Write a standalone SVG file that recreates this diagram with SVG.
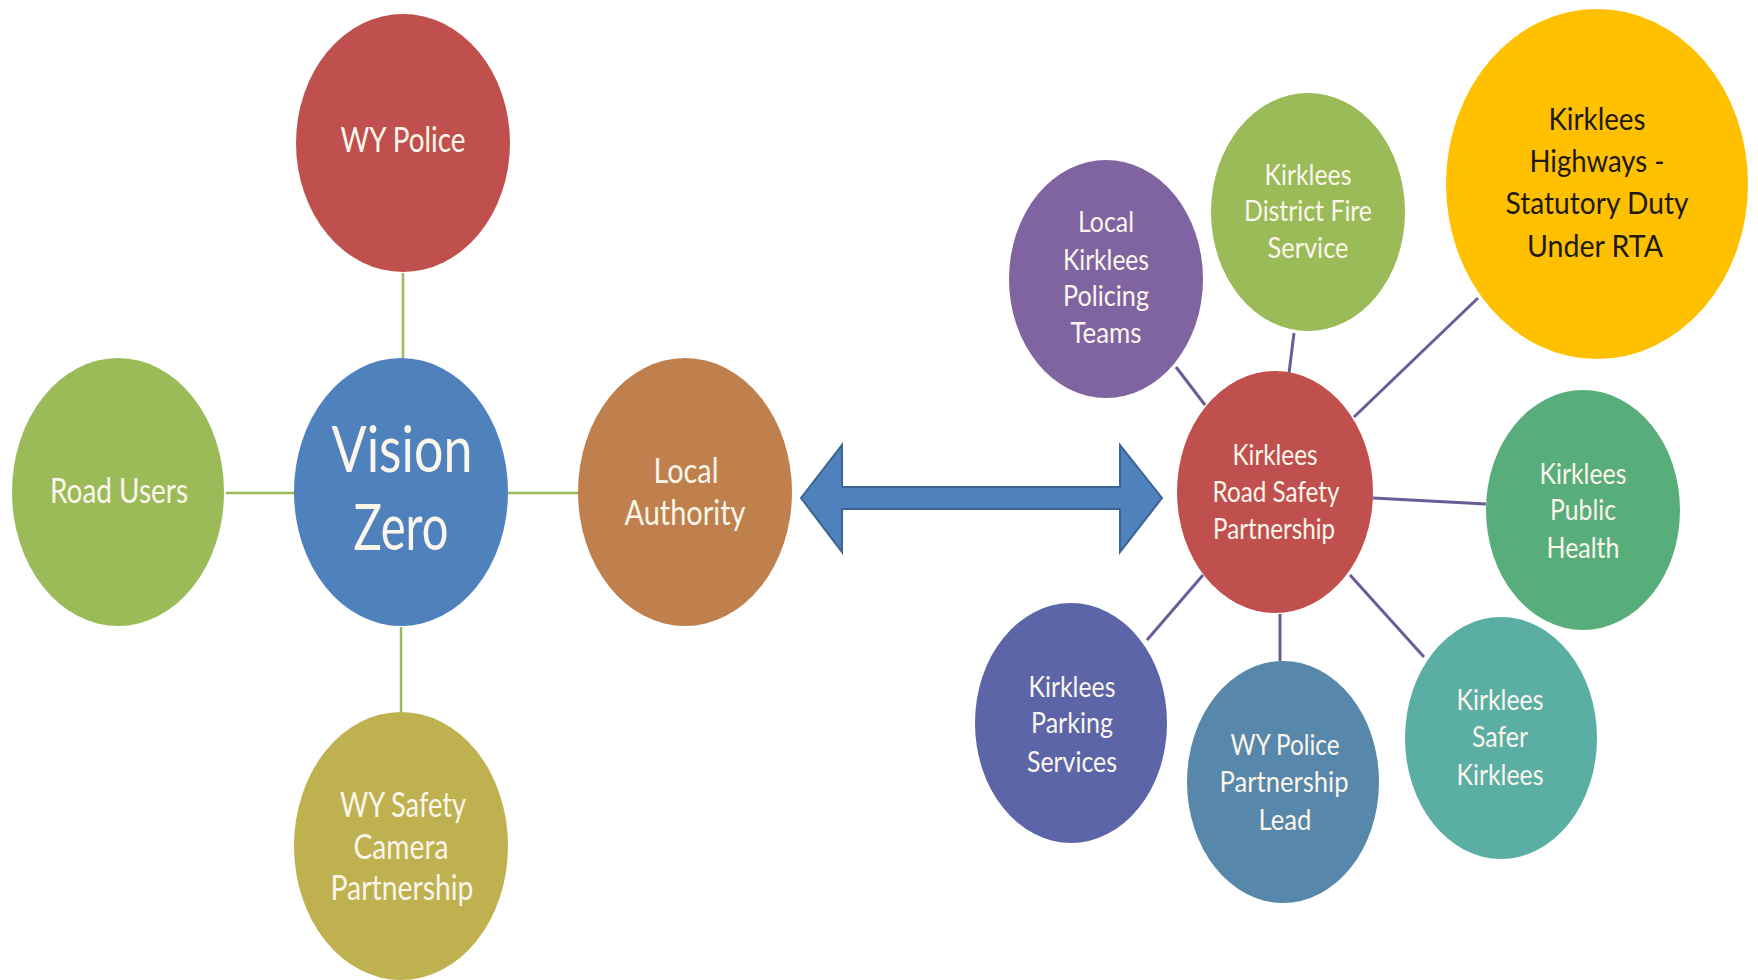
<svg xmlns="http://www.w3.org/2000/svg" width="1758" height="980" viewBox="0 0 1758 980">
<style>
text{font-family:Lato,"Open Sans","Liberation Sans",sans-serif;text-anchor:middle}
.lt{fill:#fbf6ec}
.dk{fill:#1e1a10}
.s35{font-size:35px}
.s28{font-size:28.5px}
.s31{font-size:31.5px}
.s63{font-size:64px}
.cg{stroke:#9bbb59;stroke-width:2.5;fill:none}
.cp{stroke:#6b5c97;stroke-width:3;fill:none}
</style>
<rect width="1758" height="980" fill="#ffffff"/>
<g id="connectors">
<line class="cg" x1="403" y1="273" x2="403" y2="358"/>
<line class="cg" x1="226" y1="493" x2="294" y2="493"/>
<line class="cg" x1="508" y1="493" x2="578" y2="493"/>
<line class="cg" x1="401" y1="627" x2="401" y2="712"/>
<line class="cp" x1="1176" y1="367" x2="1205" y2="405"/>
<line class="cp" x1="1294" y1="333" x2="1289" y2="373"/>
<line class="cp" x1="1478" y1="298" x2="1354" y2="417"/>
<line class="cp" x1="1373" y1="498" x2="1486" y2="504"/>
<line class="cp" x1="1203" y1="575" x2="1147" y2="640"/>
<line class="cp" x1="1280" y1="614" x2="1280" y2="661"/>
<line class="cp" x1="1350" y1="575" x2="1424" y2="657"/>
<path id="double-arrow" d="M801,498 L842,445 L842,487 L1120,487 L1120,445 L1162,498 L1120,552 L1120,509 L842,509 L842,552 Z" fill="#4f81bd" stroke="#3b6393" stroke-width="2" stroke-linejoin="miter"/>
</g>
<g id="wy-police">
<ellipse cx="403" cy="143" rx="107" ry="129" fill="#c0504d"/>
<text class="lt s35" x="403" y="152" textLength="125" lengthAdjust="spacingAndGlyphs">WY Police</text>
</g>
<g id="vision-zero">
<ellipse cx="401" cy="492" rx="107" ry="134" fill="#4f81bd"/>
<text class="lt s63" x="402" y="472" textLength="141" lengthAdjust="spacingAndGlyphs">Vision</text>
<text class="lt s63" x="401" y="550" textLength="95" lengthAdjust="spacingAndGlyphs">Zero</text>
</g>
<g id="road-users">
<ellipse cx="118" cy="492" rx="106" ry="134" fill="#9bbb59"/>
<text class="lt s35" x="119" y="503" textLength="138" lengthAdjust="spacingAndGlyphs">Road Users</text>
</g>
<g id="local-authority">
<ellipse cx="685" cy="492" rx="107" ry="134" fill="#c0804d"/>
<text class="lt s35" x="686" y="483" textLength="65" lengthAdjust="spacingAndGlyphs">Local</text>
<text class="lt s35" x="685" y="525" textLength="121" lengthAdjust="spacingAndGlyphs">Authority</text>
</g>
<g id="wy-safety-camera">
<ellipse cx="401" cy="846" rx="107" ry="134" fill="#bfb14f"/>
<text class="lt s35" x="403" y="817" textLength="126" lengthAdjust="spacingAndGlyphs">WY Safety</text>
<text class="lt s35" x="401" y="859" textLength="95" lengthAdjust="spacingAndGlyphs">Camera</text>
<text class="lt s35" x="402" y="900" textLength="143" lengthAdjust="spacingAndGlyphs">Partnership</text>
</g>
<g id="policing-teams">
<ellipse cx="1106" cy="279" rx="97" ry="119" fill="#8064a2"/>
<text class="lt s28" x="1106" y="232" textLength="56" lengthAdjust="spacingAndGlyphs">Local</text>
<text class="lt s28" x="1106" y="270" textLength="86" lengthAdjust="spacingAndGlyphs">Kirklees</text>
<text class="lt s28" x="1106" y="306" textLength="86" lengthAdjust="spacingAndGlyphs">Policing</text>
<text class="lt s28" x="1106" y="343" textLength="71" lengthAdjust="spacingAndGlyphs">Teams</text>
</g>
<g id="fire-service">
<ellipse cx="1308" cy="212" rx="97" ry="119" fill="#9bbb59"/>
<text class="lt s28" x="1308" y="185" textLength="87" lengthAdjust="spacingAndGlyphs">Kirklees</text>
<text class="lt s28" x="1308" y="221" textLength="128" lengthAdjust="spacingAndGlyphs">District Fire</text>
<text class="lt s28" x="1308" y="258" textLength="81" lengthAdjust="spacingAndGlyphs">Service</text>
</g>
<g id="highways">
<ellipse cx="1597" cy="184" rx="151" ry="175" fill="#ffc000"/>
<text class="dk s31" x="1597" y="130" textLength="97" lengthAdjust="spacingAndGlyphs">Kirklees</text>
<text class="dk s31" x="1597" y="172" textLength="135" lengthAdjust="spacingAndGlyphs">Highways -</text>
<text class="dk s31" x="1597" y="214" textLength="183" lengthAdjust="spacingAndGlyphs">Statutory Duty</text>
<text class="dk s31" x="1595" y="257" textLength="136" lengthAdjust="spacingAndGlyphs">Under RTA</text>
</g>
<g id="road-safety-partnership">
<ellipse cx="1275" cy="492" rx="98" ry="121" fill="#c0504d"/>
<text class="lt s28" x="1275" y="465" textLength="85" lengthAdjust="spacingAndGlyphs">Kirklees</text>
<text class="lt s28" x="1276" y="502" textLength="127" lengthAdjust="spacingAndGlyphs">Road Safety</text>
<text class="lt s28" x="1274" y="539" textLength="122" lengthAdjust="spacingAndGlyphs">Partnership</text>
</g>
<g id="public-health">
<ellipse cx="1583" cy="510" rx="97" ry="120" fill="#58ae7a"/>
<text class="lt s28" x="1583" y="484" textLength="87" lengthAdjust="spacingAndGlyphs">Kirklees</text>
<text class="lt s28" x="1583" y="520" textLength="66" lengthAdjust="spacingAndGlyphs">Public</text>
<text class="lt s28" x="1583" y="558" textLength="73" lengthAdjust="spacingAndGlyphs">Health</text>
</g>
<g id="parking-services">
<ellipse cx="1071" cy="723" rx="96" ry="120" fill="#5c65a8"/>
<text class="lt s28" x="1072" y="697" textLength="87" lengthAdjust="spacingAndGlyphs">Kirklees</text>
<text class="lt s28" x="1072" y="733" textLength="82" lengthAdjust="spacingAndGlyphs">Parking</text>
<text class="lt s28" x="1072" y="772" textLength="90" lengthAdjust="spacingAndGlyphs">Services</text>
</g>
<g id="wy-police-lead">
<ellipse cx="1283" cy="782" rx="96" ry="121" fill="#5787ab"/>
<text class="lt s28" x="1285" y="755" textLength="109" lengthAdjust="spacingAndGlyphs">WY Police</text>
<text class="lt s28" x="1284" y="792" textLength="129" lengthAdjust="spacingAndGlyphs">Partnership</text>
<text class="lt s28" x="1285" y="830" textLength="53" lengthAdjust="spacingAndGlyphs">Lead</text>
</g>
<g id="safer-kirklees">
<ellipse cx="1501" cy="738" rx="96" ry="121" fill="#5aaea4"/>
<text class="lt s28" x="1500" y="710" textLength="87" lengthAdjust="spacingAndGlyphs">Kirklees</text>
<text class="lt s28" x="1500" y="747" textLength="56" lengthAdjust="spacingAndGlyphs">Safer</text>
<text class="lt s28" x="1500" y="785" textLength="87" lengthAdjust="spacingAndGlyphs">Kirklees</text>
</g>
</svg>
